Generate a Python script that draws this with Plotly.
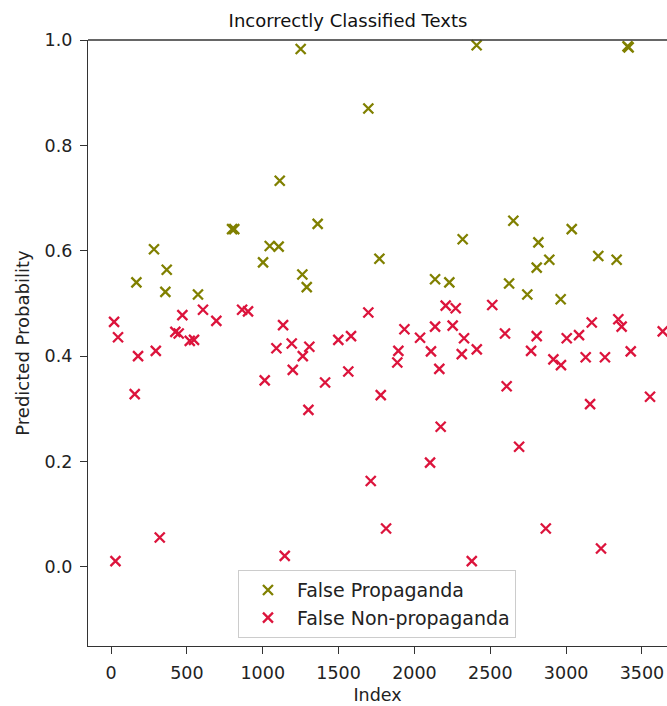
import plotly.graph_objects as go

fp_index = [167, 283, 367, 358, 573, 798, 812, 1002, 1046, 1105, 1112, 1250, 1261, 1290,
            1362, 1696, 1769, 2136, 2230, 2318, 2410, 2624, 2652, 2744, 2806, 2817, 2889,
            2964, 3037, 3212, 3333, 3405, 3412]
fp_prob = [0.540, 0.603, 0.564, 0.522, 0.517, 0.641, 0.641, 0.578, 0.609, 0.608, 0.733, 0.983,
           0.555, 0.531, 0.651, 0.870, 0.585, 0.546, 0.540, 0.622, 0.990, 0.538, 0.657, 0.517,
           0.568, 0.616, 0.583, 0.508, 0.641, 0.590, 0.583, 0.988, 0.986]

fn_index = [20, 46, 178, 295, 470, 606, 694, 424, 446, 519, 547, 864, 903, 156, 1134, 1090,
            1013, 321, 29, 1145,
            1696, 2206, 2272, 1191, 1307, 1264, 1198, 1498, 1582, 1411, 1564, 1301, 1778, 1934,
            2037, 2136, 2252, 1894, 1887, 2109, 2164, 2327, 2312, 2411, 2173, 2103, 1712, 1813,
            2378,
            2513, 2597, 2806, 2769, 3004, 3085, 2916, 2966, 3129, 3256, 3169, 3344, 3366, 3426,
            3637, 2608, 3158, 3553, 2690, 2866, 3230]
fn_prob = [0.465, 0.436, 0.400, 0.410, 0.478, 0.488, 0.467, 0.446, 0.443, 0.429, 0.431, 0.488,
           0.485, 0.328, 0.459, 0.415, 0.354, 0.056, 0.011, 0.021,
           0.483, 0.496, 0.491, 0.424, 0.418, 0.400, 0.374, 0.431, 0.438, 0.350, 0.371, 0.298,
           0.326, 0.451, 0.435, 0.456, 0.458, 0.410, 0.388, 0.409, 0.376, 0.434, 0.404, 0.413,
           0.266, 0.198, 0.163, 0.073, 0.011,
           0.497, 0.443, 0.438, 0.410, 0.434, 0.440, 0.394, 0.383, 0.398, 0.398, 0.464, 0.470,
           0.456, 0.409, 0.447, 0.343, 0.309, 0.323, 0.228, 0.073, 0.035]

x_ticks = [0, 500, 1000, 1500, 2000, 2500, 3000, 3500]
y_ticks = [0.0, 0.2, 0.4, 0.6, 0.8, 1.0]

OLIVE = "#808000"
CRIMSON = "#DC143C"

fig = go.Figure()
fig.add_trace(go.Scatter(
    x=fp_index, y=fp_prob, mode="markers", name="False Propaganda",
    marker=dict(symbol="x-thin", size=10, color=OLIVE, line=dict(width=2.3, color=OLIVE)),
    cliponaxis=False,
))
fig.add_trace(go.Scatter(
    x=fn_index, y=fn_prob, mode="markers", name="False Non-propaganda",
    marker=dict(symbol="x-thin", size=10, color=CRIMSON, line=dict(width=2.3, color=CRIMSON)),
    cliponaxis=False,
))

font_family = "DejaVu Sans, sans-serif"
fig.update_layout(
    width=667, height=706,
    margin=dict(l=88, r=0, t=40, b=60, autoexpand=False),
    paper_bgcolor="white", plot_bgcolor="white",
    font=dict(family=font_family, size=17.5, color="#222"),
    title=dict(text="Incorrectly Classified Texts", x=348/667, xanchor="center",
               xref="container", yref="container", y=1 - 21/706, yanchor="middle",
               font=dict(size=18, family=font_family, color="#111")),
    legend=dict(x=0.259, y=0.013, xanchor="left", yanchor="bottom",
                bgcolor="rgba(255,255,255,0.8)", bordercolor="#cccccc", borderwidth=1,
                font=dict(size=19, family=font_family), itemwidth=48,
                tracegroupgap=0),
    showlegend=True,
)
fig.update_xaxes(
    range=[-152, 3665], tickvals=x_ticks, ticktext=[str(v) for v in x_ticks],
    showgrid=False, zeroline=False, showline=True, linecolor="#333", linewidth=1.3,
    ticks="outside", ticklen=7, tickcolor="#333", tickfont=dict(size=17.5),
    ticklabelstandoff=4,
    title=dict(text="Index", font=dict(size=17.5), standoff=6),
)
fig.update_yaxes(
    range=[-0.15, 1.0], tickvals=y_ticks, ticktext=["%.1f" % v for v in y_ticks],
    showgrid=False, zeroline=False, showline=True, linecolor="#333", linewidth=1.3,
    ticks="outside", ticklen=7, tickcolor="#333", tickfont=dict(size=17.5),
    ticklabelstandoff=4,
    title=dict(text="Predicted Probability", font=dict(size=18), standoff=10),
)
fig.add_shape(type="line", xref="paper", yref="paper", x0=0, x1=1, y0=1, y1=1,
              line=dict(color="#333", width=1.3))

fig.write_html("out.html", config={"displayModeBar": False},
               post_script="document.body.style.margin='0';")
